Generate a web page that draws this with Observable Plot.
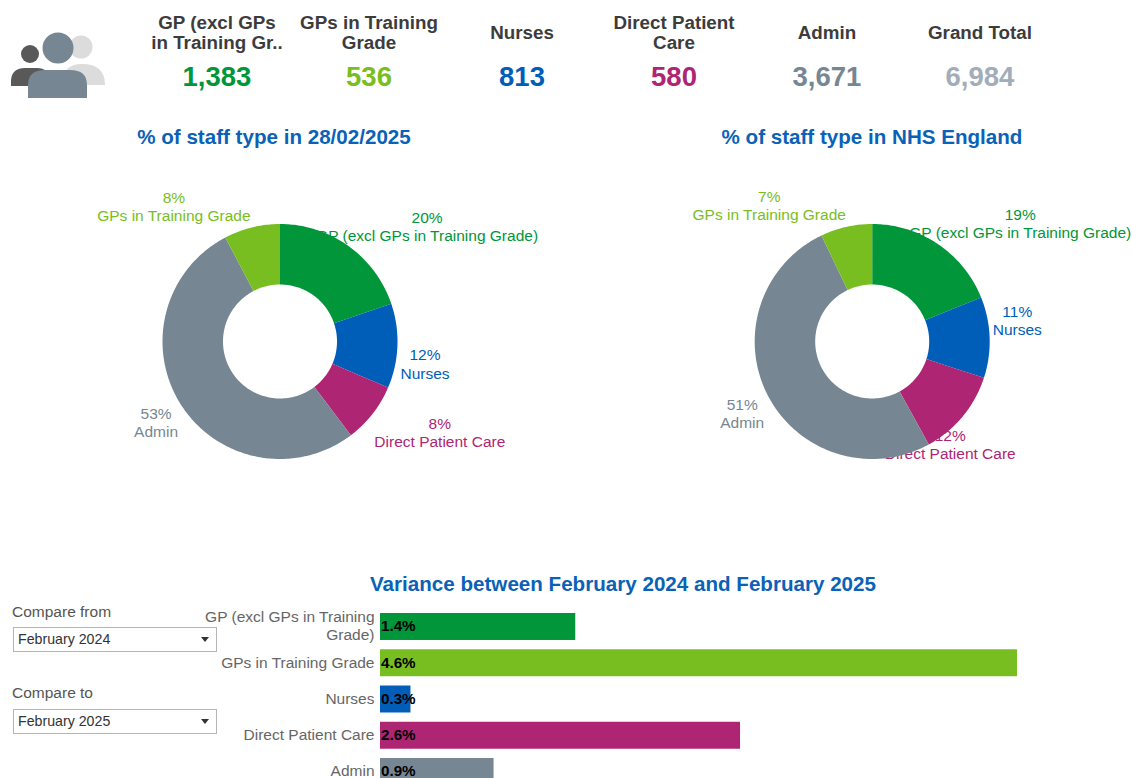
<!DOCTYPE html>
<html><head><meta charset="utf-8">
<script src="https://cdn.jsdelivr.net/npm/d3@7"></script>
<script src="https://cdn.jsdelivr.net/npm/@observablehq/plot@0.6"></script>
<style>
html,body{margin:0;padding:0;background:#fff;overflow:hidden;width:1132px;height:778px;font-family:"Liberation Sans",Arial,sans-serif}
.abs{position:absolute}
.kpi{width:160px;text-align:center;transform:translateX(-50%)}
.kh{position:absolute;left:0;right:0;top:0;height:44px;display:flex;align-items:center;justify-content:center;font-size:18.8px;line-height:20.5px;font-weight:bold;color:#3c3c3c;white-space:nowrap}
.kv{position:absolute;left:0;right:0;top:50px;font-size:27.5px;font-weight:bold;line-height:32px}
.title{font-size:20.6px;font-weight:bold;color:#0a62b8;text-align:center;line-height:24px;white-space:nowrap}
.flabel{font-size:15.5px;color:#555;line-height:18px}
.sel{box-sizing:border-box;width:204px;height:25px;border:1px solid #b5b5b5;background:#fff;font-size:14.2px;color:#333;line-height:23px;padding-left:4px}
.sel::after{content:"";position:absolute;right:7px;top:9px;border-left:4px solid transparent;border-right:4px solid transparent;border-top:5px solid #333}
svg text{font-family:"Liberation Sans",Arial,sans-serif}
</style></head><body>
<div id="page"></div>
<script>
const categories = ["GP (excl GPs in Training Grade)","GPs in Training Grade","Nurses","Direct Patient Care","Admin"];
const colors = ["#009639","#78be20","#005eb8","#ae2573","#768692"];

const kpiHeaders = ["GP (excl GPs\nin Training Gr..","GPs in Training\nGrade","Nurses","Direct Patient\nCare","Admin","Grand Total"];
const kpiValues = ["1,383","536","813","580","3,671","6,984"];
const kpiColors = ["#009639","#78be20","#005eb8","#ae2573","#768692","#a3adba"];

// Ring order, clockwise from 12 o'clock
const ringOrder = ["GP (excl GPs in Training Grade)","Nurses","Direct Patient Care","Admin","GPs in Training Grade"];
const localShare = [19.8,11.6,8.3,52.6,7.7];
const localLabels = ["20%","12%","8%","53%","8%"];
const englandShare = [18.9,11.1,12.0,50.9,7.1];
const englandLabels = ["19%","11%","12%","51%","7%"];

const variancePct = ["1.4%","4.6%","0.3%","2.6%","0.9%"];
const varianceBar = [1.41,4.6,0.22,2.6,0.82];

const page = document.getElementById("page");
function place(el,x,y,cls){el.style.left=x+"px";el.style.top=y+"px";el.classList.add("abs");if(cls)el.classList.add(cls);page.appendChild(el);return el;}
function div(html,x,y,cls){const d=document.createElement("div");d.innerHTML=html;return place(d,x,y,cls);}

// icon
div(`<svg width="100" height="80" viewBox="0 0 100 80">
<g fill="#dcdcdc"><circle cx="71" cy="16" r="11.5"/><path d="M52 54 v-4 q2-17 20-17 q23 0 23 21 z"/></g>
<g fill="#595959"><circle cx="20" cy="23" r="9"/><path d="M1 55 v-6 q1-12 14-12 h12 q12 0 12 12 v6 z"/></g>
<g fill="#768692"><circle cx="48" cy="17" r="15.5"/><path d="M18 67 v-13 q0-15 17-15 h25 q17 0 17 15 v13 z"/></g></svg>`,10,31);

// KPI tiles
const kpiX=[217,369,522,674,827,980];
kpiHeaders.forEach((h,i)=>{
  const d=div(`<div class="kh"><span>${h.replace("\n","<br>")}</span></div><div class="kv" style="color:${kpiColors[i]}">${kpiValues[i]}</div>`,kpiX[i],11,"kpi");
  d.style.height="80px";
});

div("% of staff type in 28/02/2025",274,125,"title").style.transform="translateX(-50%)";
div("% of staff type in NHS England",872,125,"title").style.transform="translateX(-50%)";
div("Variance between February 2024 and February 2025",623,572,"title").style.transform="translateX(-50%)";

// filters
div("Compare from",12,603,"flabel");
div("February 2024",13,627,"sel");
div("Compare to",12,684,"flabel");
div("February 2025",13,709,"sel");

// Donut: sectors are spherical polygons drawn by Plot.geo in a pole-centred projection
const size={w:566,h:330,top:160};
const outerR=117.5, innerR=57;
function donut(shares,labels,cx,left,offsets){
  const k=outerR/(Math.PI/2);
  const innerColat=90*innerR/outerR;
  const total=d3.sum(shares);
  let cum=0;
  const rows=ringOrder.map((name,i)=>{
    const a0=cum/total*360; cum+=shares[i]; const a1=cum/total*360;
    return {name,a0,a1,mid:(a0+a1)/2,label:labels[i]+"\n"+name,dx:offsets[i][0],dy:offsets[i][1]};
  });
  const sector=r=>{
    const n=Math.ceil((r.a1-r.a0));
    const ts=d3.range(n+1).map(j=>r.a0+(r.a1-r.a0)*j/n);
    const outer=ts.map(t=>[-t,0]);
    const inner=ts.slice().reverse().map(t=>[-t,90-innerColat]);
    return {type:"Feature",properties:{name:r.name},geometry:{type:"Polygon",coordinates:[[...outer,...inner,outer[0]]]}};
  };
  const projection=d3.geoAzimuthalEquidistant().rotate([180,-90]).scale(k).translate([cx-left,341-size.top]).precision(0.1);
  const plot=Plot.plot({
    width:size.w,height:size.h,margin:0,
    projection,
    color:{domain:categories,range:colors},
    marks:[
      ...rows.map(r=>Plot.text([r],{x:d=>-d.mid,y:0,text:"label",fill:"name",dx:r.dx,dy:r.dy,fontSize:15.5,lineHeight:1.17,textAnchor:"middle",lineAnchor:"middle"})),
      Plot.geo(rows.map(sector),{fill:d=>d.properties.name})
    ]
  });
  plot.style.background="transparent";
  place(plot,left,size.top);
}
donut(localShare,localLabels,279.5,0,[[78.6,-20],[27.6,17.8],[67.2,18.8],[-24.7,17.8],[-78,-21.4]]);
donut(englandShare,englandLabels,871.7,566,[[82.3,-21.1],[27.6,-17.4],[-12.5,27.6],[-25.5,17.8],[-77,-21.9]]);

// Bars
const rows=categories.map((c,i)=>({c,bar:varianceBar[i],pct:variancePct[i]}));
const barTop=600;
const bars=Plot.plot({
  width:1132,height:190,marginLeft:380,marginRight:115,marginTop:13,marginBottom:0,
  style:{background:"transparent"},
  x:{domain:[0,4.6],axis:null},
  y:{domain:categories,paddingInner:0.256,paddingOuter:0,round:false,range:[13,185]},
  color:{domain:categories,range:colors},
  marks:[
    Plot.barX(rows,{x:"bar",y:"c",fill:"c"}),
    Plot.text(rows,{x:0,y:"c",text:"pct",dx:0.5,dy:-0.5,textAnchor:"start",fontWeight:"bold",fontSize:15.2,fill:"#000"}),
    Plot.axisY({tickSize:0,tickPadding:6,fontSize:15.5,color:"#666",lineHeight:1.17,textOverflow:null,label:null,dy:-1.5,
      tickFormat:d=>d===categories[0]?"GP (excl GPs in Training\nGrade)":d})
  ]
});
const wrap=document.createElement("div");wrap.style.width="1132px";wrap.style.height="178px";wrap.style.overflow="hidden";
wrap.appendChild(bars);place(wrap,0,barTop);
</script>
</body></html>
